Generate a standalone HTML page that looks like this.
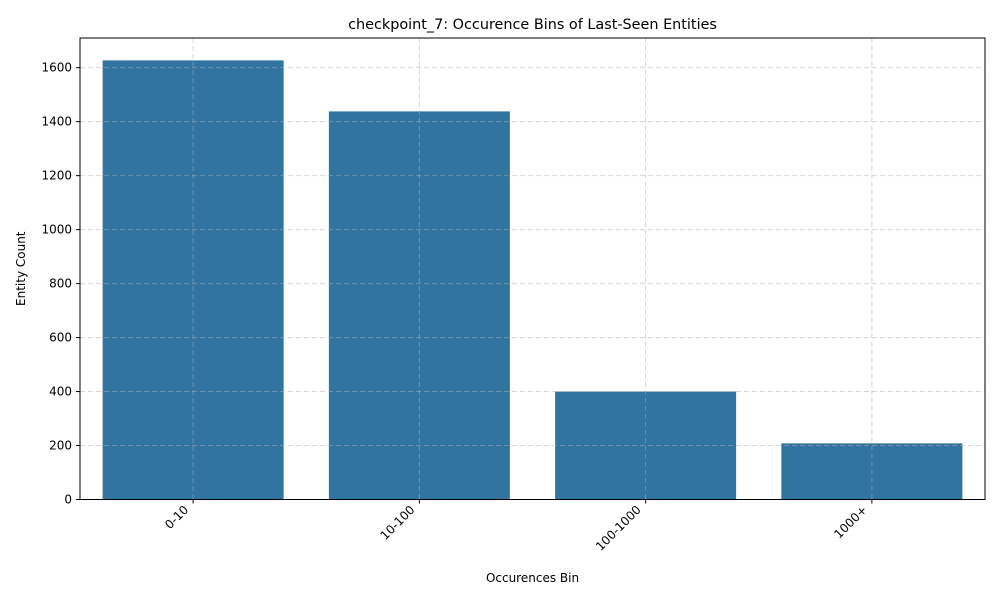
<!DOCTYPE html>
<html><head><meta charset="utf-8"><style>
body{margin:0;background:#fff;font-family:"Liberation Sans","DejaVu Sans",sans-serif;}
</style></head><body>
<svg id="chart" width="1000" height="600" xmlns="http://www.w3.org/2000/svg" font-family="'DejaVu Sans','Liberation Sans',sans-serif">
<rect width="1000" height="600" fill="#fff"/>
<g id="bars"></g><g id="grid"></g><g id="axes"></g>
</svg>
<script>
const categories = ["0-10","10-100","100-1000","1000+"];
const counts = [1627, 1438, 400, 208];
const yTicks = [0,200,400,600,800,1000,1200,1400,1600];
const L=80,R=985,T=38,B=499.5,yMax=1710;
const ns="http://www.w3.org/2000/svg";
const y=v=>B-(v/yMax)*(B-T);
const band=(R-L)/categories.length;
const x=i=>L+band*(i+0.5);
function mk(tag,attrs,parent,text){const e=document.createElementNS(ns,tag);for(const k in attrs)e.setAttribute(k,attrs[k]);if(text!==undefined)e.textContent=text;document.getElementById(parent).appendChild(e);return e;}
yTicks.forEach(v=>{
 const g=mk('line',{x1:L,x2:R,y1:y(v),y2:y(v),stroke:'#b0b0b0','stroke-opacity':0.5,'stroke-dasharray':'5,3','stroke-width':1},'grid');
 
 
 const t=mk('line',{x1:L-4,x2:L,y1:y(v),y2:y(v),stroke:'#000'},'axes');
 
 
 const l=mk('text',{x:L-8,y:y(v)+4,'text-anchor':'end','font-size':12},'axes',String(v));
 
 
});
categories.forEach((c,i)=>{
 const g=mk('line',{x1:x(i),x2:x(i),y1:T,y2:B,stroke:'#b0b0b0','stroke-opacity':0.5,'stroke-dasharray':'5,3'},'grid');
 
 
 const w=band*0.8;
 const r=mk('rect',{x:x(i)-w/2,y:y(counts[i]),width:w,height:B-y(counts[i]),fill:'#3274a1'},'bars');
 
 
 const t=mk('line',{x1:x(i),x2:x(i),y1:B,y2:B+4,stroke:'#000'},'axes');
 
 
 const lx=x(i)-4, ly=B+11;
 const l=mk('text',{x:lx,y:ly,'text-anchor':'end','font-size':12,transform:`rotate(-45 ${lx} ${ly})`},'axes',c);
 
 
});
const frame=mk('rect',{x:L,y:T,width:R-L,height:B-T,fill:'none',stroke:'#000','stroke-width':1},'axes');


const title=mk('text',{x:(L+R)/2,y:29,'text-anchor':'middle','font-size':14.4},'axes','checkpoint_7: Occurence Bins of Last-Seen Entities');


const xt=mk('text',{x:(L+R)/2,y:582,'text-anchor':'middle','font-size':12},'axes','Occurences Bin');


const yt=mk('text',{x:25,y:(T+B)/2,'text-anchor':'middle','font-size':12,transform:`rotate(-90 25 ${(T+B)/2})`},'axes','Entity Count');


</script>
</body></html>
